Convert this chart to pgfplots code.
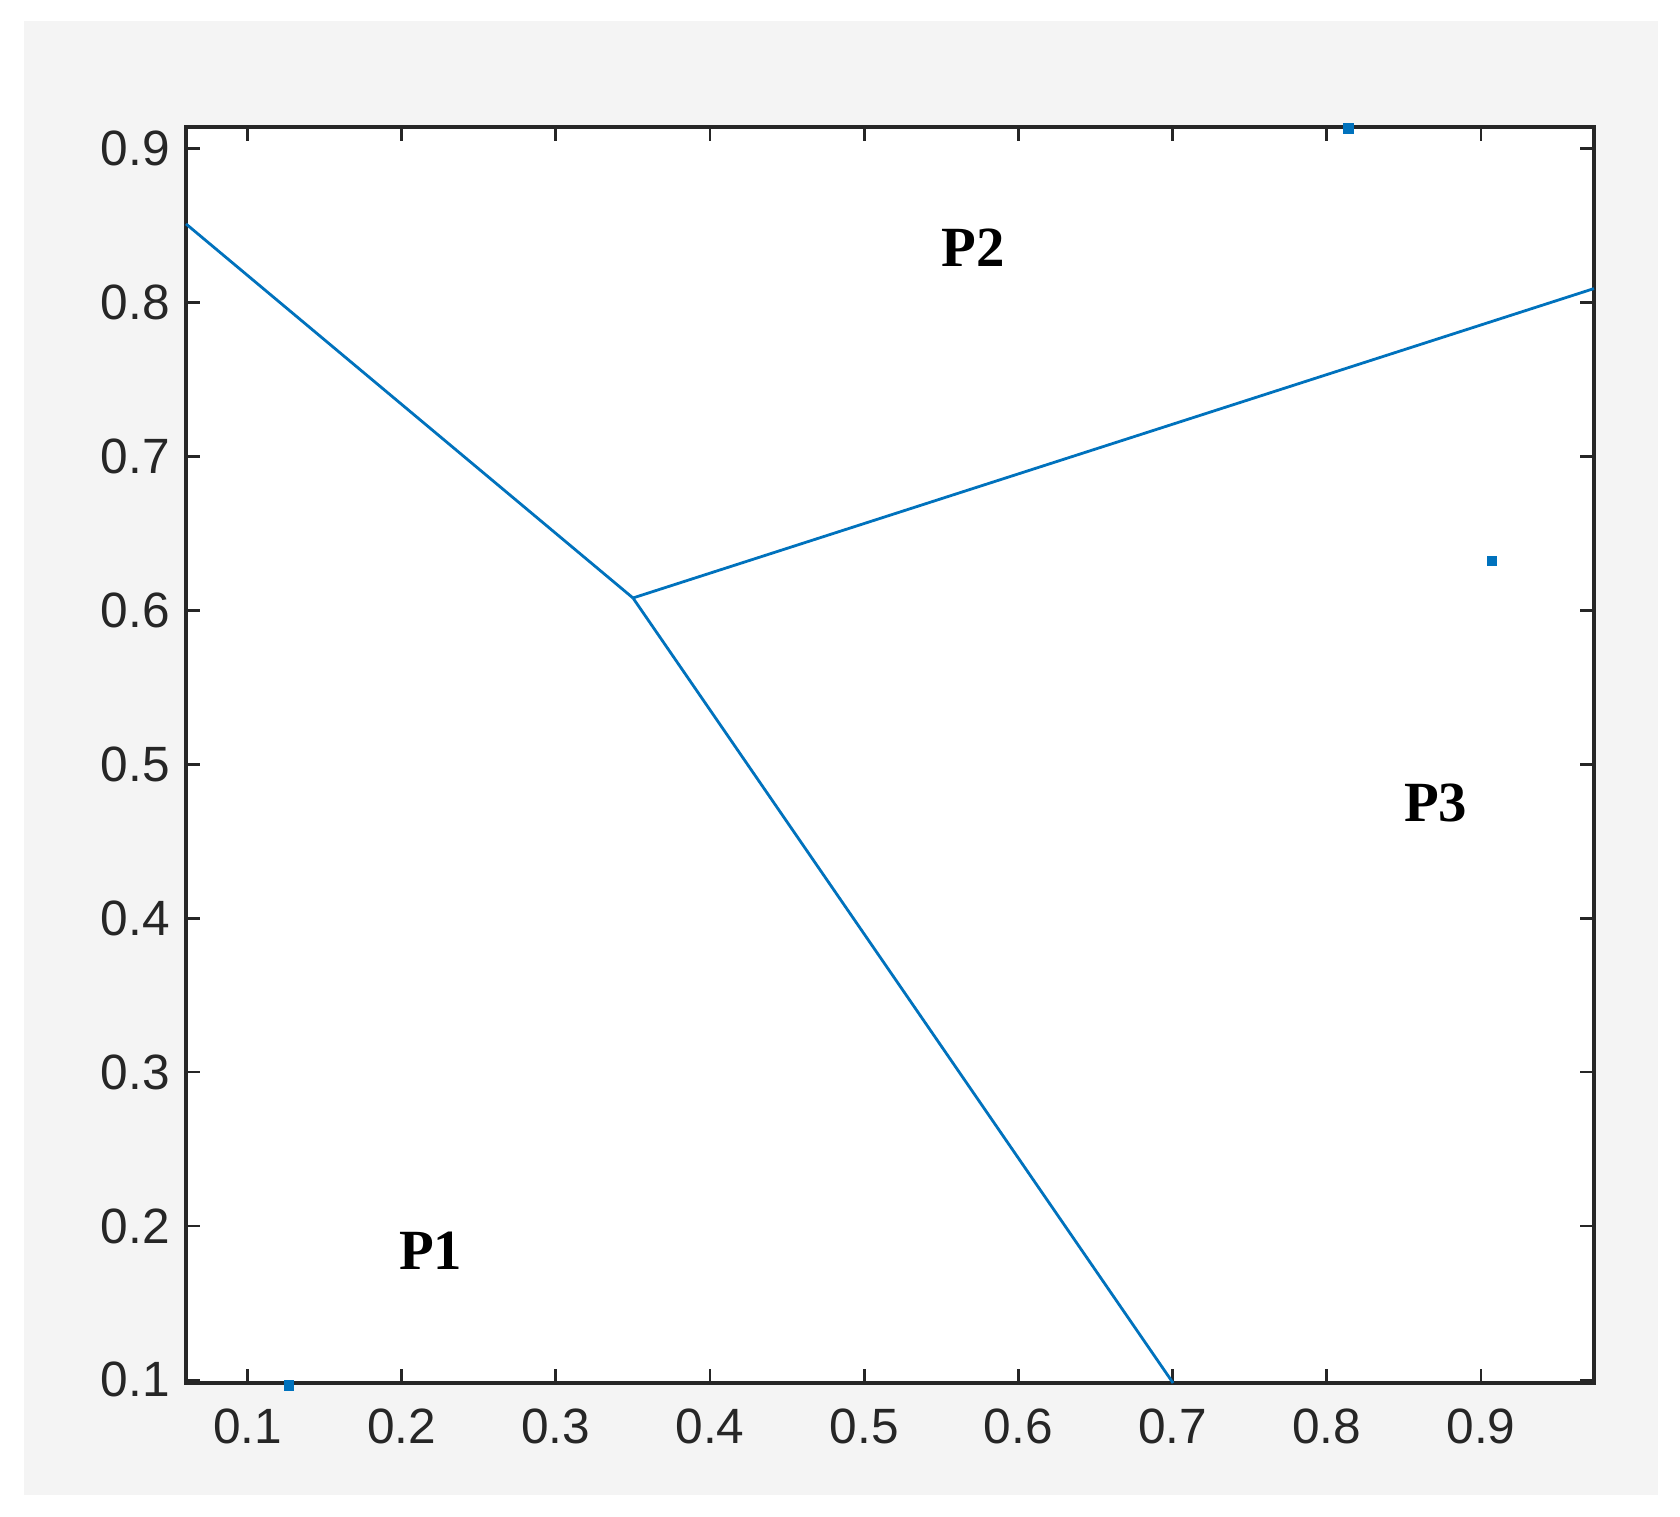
\documentclass[border=0pt]{standalone}
\usepackage{pgfplots}
\pgfplotsset{compat=1.18}
\usepackage{fontspec}
\setmainfont{Liberation Sans}
\newfontfamily\serifbold{Liberation Serif}[BoldFont={Liberation Serif Bold}]

\definecolor{mblue}{rgb}{0,0.447,0.741}
\definecolor{figgray}{RGB}{244,244,244}
\definecolor{axgray}{RGB}{38,38,38}

\begin{document}
\begin{tikzpicture}
  % page and figure background (1 px = 0.25pt)
  \path[fill=white] (-46.5pt,-33.5pt) rectangle (373.5pt,345.75pt);
  \path[fill=figgray] (-40.6pt,-27.9pt) rectangle (368pt,340.4pt);
  \begin{axis}[
    at={(0,0)}, anchor=south west,
    scale only axis,
    width=352pt, height=314pt,
    xmin=0.0601, xmax=0.9733,
    ymin=0.098, ymax=0.914,
    xtick={0.1,0.2,0.3,0.4,0.5,0.6,0.7,0.8,0.9},
    ytick={0.1,0.2,0.3,0.4,0.5,0.6,0.7,0.8,0.9},
    tick align=inside,
    major tick length=3.5pt,
    tick style={axgray, line width=0.7pt},
    axis line style={axgray, line width=0.8pt},
    axis background/.style={fill=white},
    ticklabel style={font=\fontsize{12.4}{14}\selectfont, text=axgray},
    xticklabel style={yshift=-3pt},
    yticklabel style={xshift=-0.5pt},
    /pgf/number format/assume math mode=true,
    /pgf/number format/.cd, fixed, fixed zerofill, precision=1,
    /pgfplots/.cd,
    clip=false,
  ]
    \addplot[mblue, line width=0.7pt] coordinates {(0.0601,0.851) (0.350,0.608)};
    \addplot[mblue, line width=0.7pt] coordinates {(0.350,0.608) (0.9733,0.809)};
    \addplot[mblue, line width=0.7pt] coordinates {(0.350,0.608) (0.7003,0.098)};

    \addplot[only marks, mark=square*, mark size=1.1pt, mblue] coordinates {
      (0.127,0.0963) (0.814,0.913) (0.907,0.632)
    };

    \node[font=\serifbold\bfseries\fontsize{14.2}{16}\selectfont] at (axis cs:0.5705,0.8353) {P2};
    \node[font=\serifbold\bfseries\fontsize{14.2}{16}\selectfont] at (axis cs:0.8706,0.475) {P3};
    \node[font=\serifbold\bfseries\fontsize{14.2}{16}\selectfont] at (axis cs:0.2188,0.1842) {P1};
  \end{axis}
\end{tikzpicture}
\end{document}
